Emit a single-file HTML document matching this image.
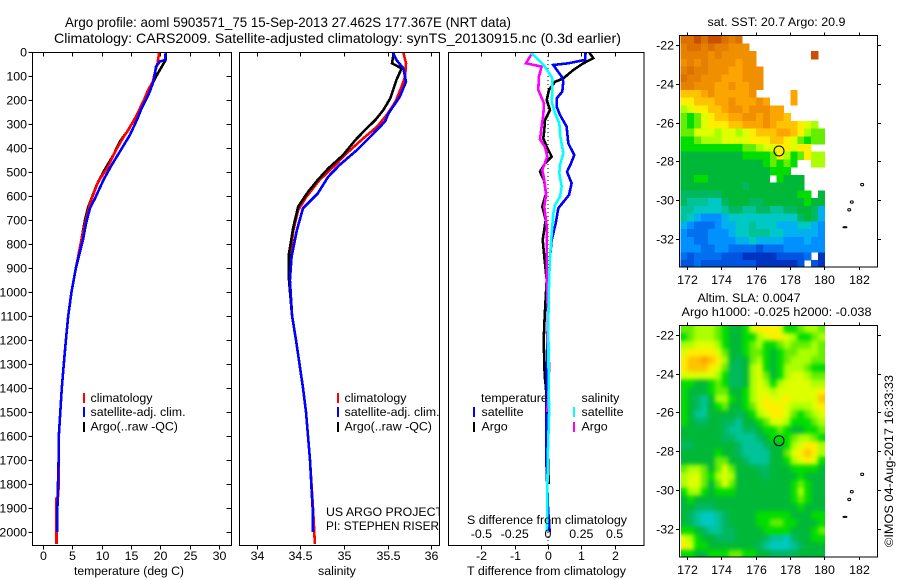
<!DOCTYPE html>
<html>
<head>
<meta charset="utf-8">
<title>Argo profile</title>
<style>
html,body{margin:0;padding:0;background:#fff;width:900px;height:580px;overflow:hidden}
svg{display:block}
text{font-family:"Liberation Sans",sans-serif;font-size:12.4px;fill:#000}
</style>
</head>
<body>
<svg id="fig" xmlns="http://www.w3.org/2000/svg" width="900" height="580" viewBox="0 0 900 580">
  <defs>
    <clipPath id="clipT"><rect x="32" y="52" width="200" height="493"/></clipPath>
    <clipPath id="clipS"><rect x="239" y="52" width="200" height="493"/></clipPath>
    <clipPath id="clipD"><rect x="448" y="52" width="196" height="493"/></clipPath>
    <clipPath id="clipSla"><rect x="681" y="325.5" width="144" height="231.5"/></clipPath>
    <filter id="smooth" x="0" y="0" width="100%" height="100%" color-interpolation-filters="sRGB">
      <feGaussianBlur in="SourceGraphic" stdDeviation="2.2" result="soft"/>
      <feMerge><feMergeNode in="SourceGraphic"/><feMergeNode in="soft"/></feMerge>
    </filter>
  </defs>
  <text x="65" y="27" style="font-size:14px" textLength="446" lengthAdjust="spacingAndGlyphs">Argo profile: aoml 5903571_75 15-Sep-2013 27.462S 177.367E (NRT data)</text>
  <text x="54" y="43" style="font-size:14px" textLength="567" lengthAdjust="spacingAndGlyphs">Climatology: CARS2009. Satellite-adjusted climatology: synTS_20130915.nc (0.3d earlier)</text>

  <g id="maps"></g>
  <g id="curves"></g>
  <g id="axes"></g>

  <text x="74" y="575" textLength="110" lengthAdjust="spacingAndGlyphs">temperature (deg C)</text>
  <text x="318" y="575">salinity</text>
  <text x="467" y="575" textLength="159" lengthAdjust="spacingAndGlyphs">T difference from climatology</text>
  <text x="467" y="524" textLength="160" lengthAdjust="spacingAndGlyphs">S difference from climatology</text>

  <g>
    <rect x="83" y="393" width="2" height="10" fill="#f00"/><text x="90.5" y="402">climatology</text>
    <rect x="83" y="407" width="2" height="10" fill="#00f"/><text x="90.5" y="416">satellite-adj. clim.</text>
    <rect x="83" y="422" width="2" height="10" fill="#000"/><text x="90.5" y="430.5">Argo(..raw -QC)</text>
  </g>
  <g clip-path="url(#clipS)">
    <rect x="337" y="393" width="2" height="10" fill="#f00"/><text x="344.5" y="402">climatology</text>
    <rect x="337" y="407" width="2" height="10" fill="#00f"/><text x="344.5" y="416">satellite-adj. clim.</text>
    <rect x="337" y="422" width="2" height="10" fill="#000"/><text x="344.5" y="430.5">Argo(..raw -QC)</text>
    <text x="326" y="516" textLength="117" lengthAdjust="spacingAndGlyphs">US ARGO PROJECT</text>
    <text x="326" y="530" textLength="113" lengthAdjust="spacingAndGlyphs">PI: STEPHEN RISER</text>
  </g>
  <g>
    <text x="481" y="402">temperature</text>
    <rect x="473" y="407" width="2" height="10" fill="#00f"/><text x="481.5" y="416">satellite</text>
    <rect x="473" y="422" width="2" height="10" fill="#000"/><text x="481.5" y="430.5">Argo</text>
    <text x="581.5" y="402">salinity</text>
    <rect x="573" y="407" width="2" height="10" fill="#0ff"/><text x="581.5" y="416">satellite</text>
    <rect x="573" y="422" width="2" height="10" fill="#f0f"/><text x="581.5" y="430.5">Argo</text>
  </g>

  <text x="707.5" y="26" textLength="138" lengthAdjust="spacingAndGlyphs">sat. SST: 20.7 Argo: 20.9</text>
  <text x="697.5" y="302" textLength="103" lengthAdjust="spacingAndGlyphs">Altim. SLA: 0.0047</text>
  <text x="681.5" y="316" textLength="190" lengthAdjust="spacingAndGlyphs">Argo h1000: -0.025 h2000: -0.038</text>
  <text transform="translate(893,547) rotate(-90)" textLength="172" lengthAdjust="spacingAndGlyphs">©IMOS 04-Aug-2017 16:33:33</text>
</svg>

<script>
// ---------- data: temperature panel (deg C vs depth m) ----------
var tempClimDepth = [1,47,82,124,158,200,235,276,325,367,415,485,540,630,700,776,900,1000,1100,1200,1300,1400,1500,1600,1700,1800,1850,1860,2050];
var tempClimValue = [19.8,19.5,19.1,18.7,17.9,17.2,16.5,15.7,14.5,13.4,12.3,10.9,9.4,8.0,7.3,6.6,5.6,4.85,4.3,3.9,3.55,3.2,2.95,2.7,2.65,2.65,2.6,2.3,2.3];
var tempSatDepth = [1,33,40,61,117,165,193,235,283,346,415,471,533,610,651,714,776,900,1000,1100,1200,1300,1400,1500,1600,1700,1800,1900,2000];
var tempSatValue = [20.9,20.8,19.9,19.25,18.9,18.2,17.66,16.8,16.0,14.8,13.1,11.7,10.3,8.86,8.0,7.33,6.87,5.6,4.85,4.3,3.9,3.55,3.2,2.95,2.7,2.65,2.55,2.45,2.45];
var tempArgoDepth = [1,33,75,96,130,179,228,276,325,373,429,499,554,645,700,776,900,1000,1100,1200,1300,1400,1500,1600,1700,1800,1900,2000];
var tempArgoValue = [20.9,20.9,19.9,19.4,18.7,17.66,16.8,15.67,14.54,13.1,12.0,10.3,9.14,7.72,7.15,6.6,5.6,4.85,4.3,3.9,3.55,3.2,2.95,2.7,2.65,2.55,2.45,2.45];

// ---------- data: salinity panel ----------
var salClimDepth = [3,47,103,144,207,262,311,360,422,471,533,603,658,742,853,950,1100,1200,1300,1400,1500,1700,1900,2050];
var salClimValue = [35.68,35.71,35.70,35.66,35.59,35.49,35.38,35.22,35.03,34.90,34.72,34.57,34.475,34.42,34.38,34.37,34.405,34.45,34.49,34.53,34.565,34.61,34.645,34.667];
var salSatDepth = [3,33,68,124,186,256,290,346,408,471,519,589,651,742,853,950,1100,1200,1300,1400,1500,1700,1900,2000];
var salSatValue = [35.56,35.6,35.68,35.71,35.64,35.51,35.47,35.32,35.15,34.95,34.82,34.70,34.53,34.46,34.40,34.38,34.405,34.45,34.49,34.53,34.565,34.61,34.64,34.645];
var salArgoDepth = [3,47,68,117,193,242,283,325,367,429,485,533,582,644,728,839,950,1100,1200,1300,1400,1500,1700,1900,2000];
var salArgoValue = [35.57,35.55,35.66,35.6,35.53,35.45,35.36,35.24,35.13,34.99,34.82,34.70,34.59,34.475,34.42,34.37,34.37,34.405,34.45,34.49,34.53,34.565,34.61,34.64,34.645];

// ---------- data: difference panel ----------
var diffTSatDepth = [3,33,47,54,103,124,165,193,228,262,311,381,429,464,499,547,596,651,714,783,853,950,1100,1300,1500,1700,1900,2000];
var diffTSatValue = [1.13,1.11,0.61,0.16,0.41,0.46,0.43,0.26,0.26,0.36,0.56,0.61,0.79,0.69,0.57,0.71,0.63,0.31,0.23,0.11,0.06,0.03,0.0,-0.03,-0.05,-0.05,0.0,0.05];
var diffTArgoDepth = [3,26,47,75,110,124,158,200,242,283,325,360,394,436,464,499,533,589,644,700,783,853,950,1100,1200,1350,1400,1700,1800];
var diffTArgoValue = [1.24,1.36,1.06,0.76,0.46,0.21,0.03,-0.04,0.06,-0.09,-0.11,-0.14,-0.04,0.11,-0.09,-0.24,-0.12,-0.06,-0.17,-0.07,-0.16,-0.11,-0.04,-0.1,-0.13,-0.1,-0.06,0.0,0.02];
var diffSSatDepth = [3,33,61,110,158,207,256,297,353,422,471,506,561,603,637,672,756,853,950,1100,1300,1500,1700,1900,2000];
var diffSSatValue = [-0.128,-0.073,-0.023,0.033,0.033,0.028,0.053,0.085,0.093,0.115,0.09,0.085,0.103,0.09,0.053,0.04,0.028,0.015,0.008,0.003,0.004,0.008,-0.002,-0.006,-0.008];
var diffSArgoDepth = [3,47,61,103,158,214,262,311,364,394,436,492,533,596,644,728,853,950,1100,1200,1300,1400,1500];
var diffSArgoValue = [-0.118,-0.165,-0.048,-0.068,-0.073,-0.03,-0.035,-0.048,-0.06,-0.023,-0.005,-0.043,-0.028,-0.015,-0.028,-0.01,-0.01,-0.01,0.0,-0.005,0.008,0.005,-0.005];

// ---------- data: tick labels ----------
var depthTicks = [0,100,200,300,400,500,600,700,800,900,1000,1100,1200,1300,1400,1500,1600,1700,1800,1900,2000];
var tempTicks = [0,5,10,15,20,25,30];
var salTicks = [34,34.5,35,35.5,36];
var diffTTicks = [-2,-1,0,1,2];
var diffSTicks = [-0.5,-0.25,0,0.25,0.5];
var lonTicks = [172,174,176,178,180,182];
var latTicks = [-22,-24,-26,-28,-30,-32];

// ---------- data: map grids (colour-scale level per cell, '.' = no data) ----------
var sstRows = [
"iijijjihi............",
"hiihihhggg...........",
"hhhhghggggg........j.",
"ghghggggfgg..........",
"hihhgggffggg.........",
"ihhgggfffggg.........",
"hhgggffgffgg.........",
"eeefgfffffg.....f....",
"ddeeeffgfffgf...f....",
"bcddeefggfgggff......",
"a9acdeeffggfgffe.....",
"a9acdddeefffgfeeedcb.",
"aacccbccbcdeeeffedbaa",
"99abbbccccdddeedca9aa",
"999999999aabccddcdd..",
"8888888889999adb9adbb",
"8888888888889a9a9..bb",
"8888888888888999.....",
"8899888888888.9888...",
"888888888788888888...",
"7777778888888888899.8",
"766655788877888888988",
"665555677667766778874",
"654333455555555557874",
"432223445565554445543",
"322233345566655444443",
"332233334454444333433",
"333223322221222333333",
"2122221110000011112.0",
"112111111110000001.10"
];
var slaRows = [
"aabbba9889cdddc99abba",
"9abbba98899bcddcb99ab",
"bbcccb9889ab99abaaaba",
"cddddca889aa989aabbba",
"deefedb878ab989abbbaa",
"deeedca778bc989bbba99",
"cccccb9778bca89bccbaa",
"99889a9778bcb9bccccbb",
"98889aa889bccbccccccd",
"98768bb989bcdccdcccce",
"987689a889acdddcbbbcd",
"98668888789bcddca9abc",
"987788776889accb999ab",
"88888876677899a98899a",
"8888887766678999abba9",
"7788888876667889bcddb",
"888889887666688acdedb",
"88888aa887666889bcdc9",
"abba8aca8887788899998",
"bcca9bcb8888788889888",
"bcca8aca888888889a988",
"9bb98999888888889b988",
"89888888888888889a988",
"887778888888888889888",
"876556788889999988899",
"8765567888899aa998889",
"99876677888899998889a",
"cb9887778888766578899",
"dc9988888887655567888",
"9988999aa998877778888"
];
var levelColors = {
  "0":"#0034c0","1":"#0054e0","2":"#0070f0","3":"#0090ff","4":"#00b0f0","5":"#00c8c4","6":"#00c498",
  "7":"#00b860","8":"#00b838","9":"#00dd00","a":"#66ee00","b":"#aaff00","c":"#ddff00","d":"#ffee00",
  "e":"#ffc400","f":"#fca400","g":"#f09000","h":"#e58000","i":"#dc7000","j":"#c85000"
};
var floatLon = 177.367;
var floatLat = -27.462;
var islandLon = [182.2,181.6,181.45,181.2];
var islandLat = [-29.2,-30.1,-30.5,-31.4];

// ---------- helpers ----------
var NS = "http://www.w3.org/2000/svg";
function el(name, attrs, parent){
  var e = document.createElementNS(NS, name);
  for (var k in attrs) e.setAttribute(k, attrs[k]);
  parent.appendChild(e);
  return e;
}
function yDepth(d){ return 52 + d * 0.24; }
function xTemp(v){ return 43 + v * 5.87; }
function xSal(v){ return 256.7 + (v - 34) * 87.3; }
function xDiffT(v){ return 548 + v * 33.3; }
function xDiffS(v){ return 548 + v * 133.2; }
function xLon(v){ return 686.7 + (v - 172) * 17.2; }
function yLatTop(v){ return 45.3 + (-22 - v) * 19.35; }
function yLatBot(v){ return 335 + (-22 - v) * 19.35; }

var curves = document.getElementById("curves");
var axes = document.getElementById("axes");
var maps = document.getElementById("maps");

function drawCurve(name, depths, values, xf, color, clip, w){
  var pts = [];
  for (var i = 0; i < depths.length; i++) pts.push(xf(values[i]).toFixed(1) + "," + yDepth(depths[i]).toFixed(1));
  var p = el("polyline", {points: pts.join(" "), fill: "none", stroke: color, "stroke-width": w, "clip-path": "url(#" + clip + ")", "shape-rendering": "crispEdges"}, curves);
  
  
}

// ---------- curves ----------
drawCurve("temperature-argo-line", tempArgoDepth, tempArgoValue, xTemp, "#000", "clipT", 2.6);
drawCurve("temperature-climatology-line", tempClimDepth, tempClimValue, xTemp, "#f00", "clipT", 2.6);
drawCurve("temperature-satellite-line", tempSatDepth, tempSatValue, xTemp, "#00f", "clipT", 2.6);
drawCurve("salinity-climatology-line", salClimDepth, salClimValue, xSal, "#f00", "clipS", 2.6);
drawCurve("salinity-argo-line", salArgoDepth, salArgoValue, xSal, "#000", "clipS", 2.6);
drawCurve("salinity-satellite-line", salSatDepth, salSatValue, xSal, "#00f", "clipS", 2.6);
var zeroLine = el("line", {x1: xDiffT(0), x2: xDiffT(0), y1: 52, y2: 545, stroke: "#000", "stroke-width": 1, "stroke-dasharray": "1 3"}, curves);


drawCurve("difference-t-argo-line", diffTArgoDepth, diffTArgoValue, xDiffT, "#000", "clipD", 2.6);
drawCurve("difference-t-satellite-line", diffTSatDepth, diffTSatValue, xDiffT, "#00f", "clipD", 2.6);
drawCurve("difference-s-argo-line", diffSArgoDepth, diffSArgoValue, xDiffS, "#f0f", "clipD", 2.6);
drawCurve("difference-s-satellite-line", diffSSatDepth, diffSSatValue, xDiffS, "#0ff", "clipD", 2.6);

// ---------- axes ----------
function frame(name, x, y, w, h){
  var r = el("rect", {x: x, y: y, width: w, height: h, fill: "none", stroke: "#000", "stroke-width": 1.4, "shape-rendering": "crispEdges"}, axes);
  
  
}
function tick(x1, y1, x2, y2){
  el("line", {x1: x1, y1: y1, x2: x2, y2: y2, stroke: "#000", "stroke-width": 1, "shape-rendering": "crispEdges"}, axes);
}
function label(name, str, x, y, anchor){
  var t = el("text", {x: x, y: y, "text-anchor": anchor}, axes);
  t.textContent = str;
  
  
}
frame("temperature-plot-frame", 32.5, 52.5, 199, 493);
frame("salinity-plot-frame", 239.5, 52.5, 200, 493);
frame("difference-plot-frame", 448.5, 52.5, 195.5, 493);

depthTicks.forEach(function(d){
  var y = Math.round(yDepth(d)) + 0.5;
  tick(28.5, y, 32.5, y);
  tick(226.5, y, 231.5, y);
  label("depth-tick-label", String(d), 27, y + 4, "end");
});
tempTicks.forEach(function(v){
  var x = Math.round(xTemp(v)) + 0.5;
  tick(x, 52.5, x, 56.5);
  tick(x, 545.5, x, 549.5);
  label("temperature-tick-label", String(v), x, 560, "middle");
});
salTicks.forEach(function(v){
  var x = Math.round(xSal(v)) + 0.5;
  tick(x, 52.5, x, 56.5);
  tick(x, 545.5, x, 549.5);
  label("salinity-tick-label", String(v), x, 560, "middle");
});
diffTTicks.forEach(function(v){
  var x = Math.round(xDiffT(v)) + 0.5;
  tick(x, 52.5, x, 56.5);
  tick(x, 545.5, x, 549.5);
  label("t-difference-tick-label", String(v), x, 560, "middle");
});
diffSTicks.forEach(function(v){
  label("s-difference-tick-label", String(v), xDiffS(v), 538, "middle");
});

// ---------- maps ----------
function drawMap(name, rows, yLat, top, bottom, smooth){
  var lonStart = 171.63, lonStep = 0.4, latStart = -21.5, latStep = 0.4;
  var wrap = el("g", smooth ? {"clip-path": "url(#clipSla)"} : {}, maps);
  
  
  var g = el("g", smooth ? {filter: "url(#smooth)"} : {"shape-rendering": "crispEdges"}, wrap);
  
  
  rows.forEach(function(row, r){
    for (var c = 0; c < row.length && c < 21; c++){
      var col = levelColors[row.charAt(c)];
      if (!col) continue;
      var x0 = xLon(lonStart + c * lonStep), x1 = xLon(lonStart + (c + 1) * lonStep);
      var y0 = Math.max(yLat(latStart - r * latStep), top), y1 = Math.min(yLat(latStart - (r + 1) * latStep), bottom);
      var cell = el("rect", {x: x0.toFixed(2), y: y0.toFixed(2), width: (x1 - x0 + 0.4).toFixed(2), height: (y1 - y0 + 0.4).toFixed(2), fill: col}, g);
      
      
    }
  });
  var fr = el("rect", {x: 679.5, y: top, width: 198, height: bottom - top, fill: "none", stroke: "#000", "stroke-width": 1.4, "shape-rendering": "crispEdges"}, maps);
  
  
  lonTicks.forEach(function(v){
    var x = Math.round(xLon(v)) + 0.5;
    tick(x, top - 3, x, top);
    tick(x, bottom, x, bottom + 3);
    label("longitude-tick-label", String(v), x, bottom + 17, "middle");
  });
  latTicks.forEach(function(v){
    var y = Math.round(yLat(v)) + 0.5;
    tick(676, y, 679.5, y);
    tick(877.5, y, 881, y);
    label("latitude-tick-label", String(v), 674, y + 4, "end");
  });
  islandLon.forEach(function(lon, i){
    var isl = el("ellipse", {cx: xLon(lon), cy: yLat(islandLat[i]), rx: i === 3 ? 2 : 1.5, ry: i === 3 ? 0.6 : 1.2, fill: "#fff", stroke: "#000", "stroke-width": 1}, maps);
    
    
  });
  var mk = el("circle", {cx: xLon(floatLon), cy: yLat(floatLat), r: 5, fill: "none", stroke: "#000", "stroke-width": 1}, maps);
  
  
}
drawMap("sst-map", sstRows, yLatTop, 35.5, 267, false);
drawMap("sla-map", slaRows, yLatBot, 325.5, 557, true);
</script>
</body>
</html>
